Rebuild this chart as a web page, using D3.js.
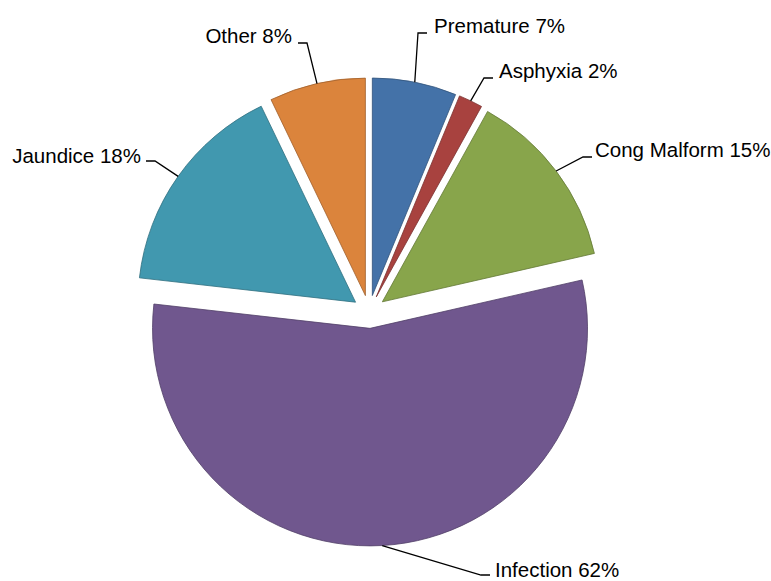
<!DOCTYPE html>
<html>
<head>
<meta charset="utf-8">
<script src="https://cdn.jsdelivr.net/npm/d3@7"></script>
<style>
  body { margin: 0; background: #fff; }
  text { font-family: "Liberation Sans", Arial, Helvetica, sans-serif; font-size: 20.5px; fill: #000; }
</style>
</head>
<body>
<script>
// chart data
var categories = ["Premature", "Asphyxia", "Cong Malform", "Infection", "Jaundice", "Other"];
var values = [7, 2, 15, 62, 18, 8];
var colors = ["#4472A8", "#A8423F", "#88A54B", "#70578E", "#4198AF", "#DB843C"];

// label layout: elbow of the leader line, and which side the text sits
var labelLayout = [
    {elbow: [418, 33], side: 1, gap: 7, dy: 0},
    {elbow: [484, 78], side: 1, gap: 6, dy: 0},
    {elbow: [583, 157], side: 1, gap: 3, dy: 0},
    {elbow: [481, 575], side: 1, gap: 5, dy: 1.5},
    {elbow: [155, 161], side: -1, gap: 5, dy: 1.5},
    {elbow: [307, 43], side: -1, gap: 6, dy: 0}
];

var width = 771, height = 581;
var cx = 369.1, cy = 311.8, radius = 217.5, explode = 16.6;

var svg = d3.select("body")
    .append("svg")
    .attr("width", width)
    .attr("height", height);

var pie = d3.pie().sort(null).value(function(d) { return d; });
var arcs = pie(values);

var arc = d3.arc().innerRadius(0).outerRadius(radius);

var g = svg.append("g").attr("transform", "translate(" + cx + "," + cy + ")");

function mid(d) { return (d.startAngle + d.endAngle) / 2; }

g.selectAll("path.slice")
    .data(arcs)
    .enter()
    .append("path")
    .attr("class", "slice")
    .attr("transform", function(d) {
        var a = mid(d);
        return "translate(" + (Math.sin(a) * explode) + "," + (-Math.cos(a) * explode) + ")";
    })
    .attr("d", arc)
    .attr("fill", function(d, i) { return colors[i]; })
    .attr("stroke", function(d, i) { return d3.color(colors[i]).darker(0.9); })
    .attr("stroke-width", 0.8);

// leader lines and labels
arcs.forEach(function(d, i) {
    var a = mid(d);
    var r = radius + explode;
    var sx = cx + Math.sin(a) * r, sy = cy - Math.cos(a) * r;
    var L = labelLayout[i];
    var ex = L.elbow[0], ey = L.elbow[1];
    var hx = ex + L.side * 9;
    svg.append("path")
        .attr("d", "M" + sx + "," + sy + "L" + ex + "," + ey + "L" + hx + "," + ey)
        .attr("fill", "none")
        .attr("stroke", "#000")
        .attr("stroke-width", 1.3);
    svg.append("text")
        .attr("x", hx + L.side * L.gap)
        .attr("y", ey + L.dy)
        .attr("text-anchor", L.side > 0 ? "start" : "end")
        .text(categories[i] + " " + values[i] + "%");
});
</script>
</body>
</html>
